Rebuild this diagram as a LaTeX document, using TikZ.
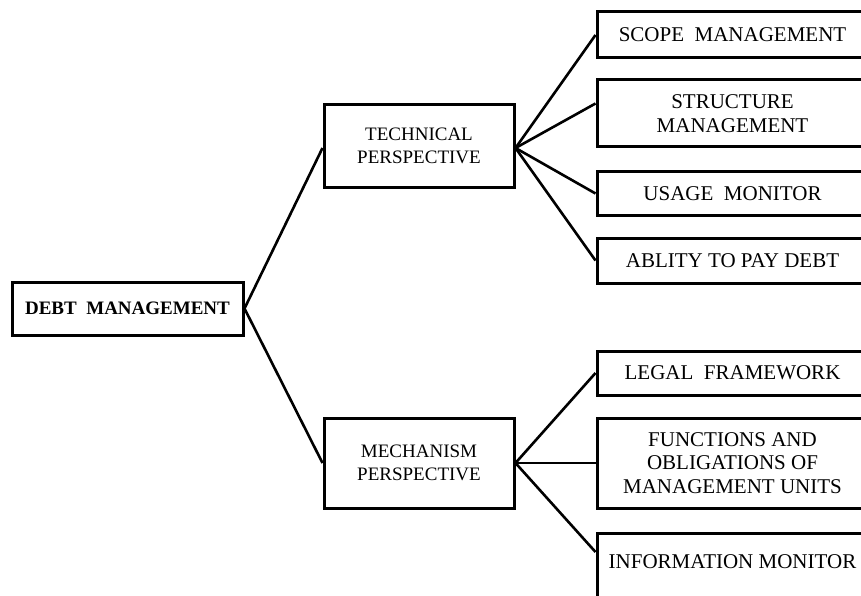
\documentclass[tikz,border=0pt]{standalone}
\usepackage{fontspec}
\setmainfont{Liberation Serif}
\begin{document}
\begin{tikzpicture}[x=1pt, y=-1pt,
    box/.style={draw, line width=3pt, align=center, inner sep=0pt},
    persp/.style={box, minimum width=190, font=\fontsize{19}{23}\selectfont},
    leaf/.style={box, minimum width=271, font=\fontsize{21}{23.5}\selectfont},
    link/.style={line width=2.6pt}]
    \useasboundingbox (0,0) rectangle (861,596);
    \clip (0,0) rectangle (861,596);

    % Root
    \node[box, minimum width=231, minimum height=53, font=\bfseries\fontsize{19}{23}\selectfont] (debt) at (127.5,308.5) {DEBT~ MANAGEMENT};

    % Perspectives
    \node[persp, minimum height=82] (tech) at (419,146) {TECHNICAL\\PERSPECTIVE};
    \node[persp, minimum height=90] (mech) at (419,463) {MECHANISM\\PERSPECTIVE};

    % Leaves, technical side
    \node[leaf, minimum height=46] (scope) at (732.5,35) {SCOPE~ MANAGEMENT};
    \node[leaf, minimum height=67] (struct) at (732.5,113.5) {STRUCTURE\\MANAGEMENT};
    \node[leaf, minimum height=43] (usage) at (732.5,193.5) {USAGE~ MONITOR};
    \node[leaf, minimum height=45] (ablity) at (732.5,260.5) {ABLITY TO PAY DEBT};

    % Leaves, mechanism side
    \node[leaf, minimum height=44] (legal) at (732.5,373) {LEGAL~ FRAMEWORK};
    \node[leaf, minimum height=90] (funcs) at (732.5,463) {FUNCTIONS AND\\OBLIGATIONS OF\\MANAGEMENT UNITS};
    \node[leaf, anchor=north, text height=35, text depth=80] (info) at (732.5,532) {INFORMATION MONITOR};

    % Edges
    \draw[link] (debt.east) -- ([yshift=-2pt]tech.west);
    \draw[link] (debt.east) -- (mech.west);
    \foreach \n in {scope, usage, ablity}
        \draw[link] ([yshift=-2pt]tech.east) -- (\n.west);
    \draw[link] ([yshift=-2pt]tech.east) -- ([yshift=10pt]struct.west);
    \foreach \n in {legal, funcs}
        \draw[link] (mech.east) -- (\n.west);
    \draw[link] (mech.east) -- ([yshift=-20pt]info.north west);
\end{tikzpicture}
\end{document}
